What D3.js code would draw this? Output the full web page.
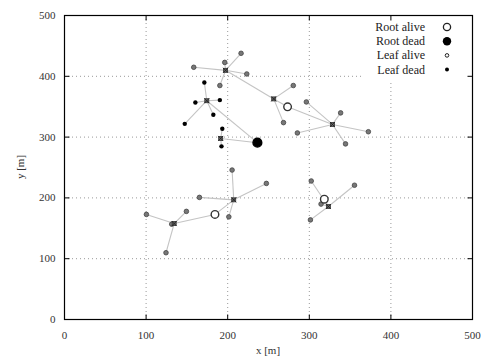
<!DOCTYPE html>
<html>
<head>
<meta charset="utf-8">
<script src="https://cdn.jsdelivr.net/npm/d3@7"></script>
<style>
  body { margin: 0; background: #fff; }
  text { font-family: "Liberation Serif", "DejaVu Serif", serif; }
</style>
</head>
<body>
<svg id="chart" width="488" height="361"></svg>
<script>
// roots: [name, x, y, alive]
const roots = [
  ["R1", 274, 349, true],
  ["R2", 237, 290, false],
  ["R3", 185, 172, true],
  ["R4", 319, 197, true]
];
// relay (cluster head) nodes: [name, x, y, parent]
const heads = [
  ["A", 198, 409, "B"],
  ["B", 257, 362, "R1"],
  ["C", 329, 320, "R1"],
  ["D", 175, 359, "R2"],
  ["E", 192, 297, "R2"],
  ["F", 208, 196, "R3"],
  ["G", 135, 157, "R3"],
  ["H", 324, 185, "R4"]
];
// leaves: [x, y, parent, alive]
const leaves = [
  [217, 437, "A", true], [197, 422, "A", true], [159, 414, "A", true], [224, 403, "A", true], [191, 384, "A", true],
  [281, 384, "B", true], [269, 323, "B", true],
  [297, 357, "C", true], [339, 339, "C", true], [373, 308, "C", true], [345, 288, "C", true], [286, 306, "C", true],
  [172, 389, "D", false], [161, 356, "D", false], [191, 360, "D", false], [183, 336, "D", false], [148, 321, "D", false],
  [194, 313, "E", false], [193, 284, "E", false],
  [206, 245, "F", true], [248, 223, "F", true], [166, 200, "F", true], [202, 168, "F", true],
  [101, 172, "G", true], [150, 177, "G", true], [125, 109, "G", true], [132, 156, "G", true],
  [303, 227, "H", true], [356, 220, "H", true], [302, 163, "H", true], [315, 189, "H", true]
];
const ticks = [0, 100, 200, 300, 400, 500];
const legendLabels = ["Root alive", "Root dead", "Leaf alive", "Leaf dead"];

const svg = d3.select("#chart");
const mLeft = 64, mRight = 472, mTop = 15, mBottom = 319;
const x = d3.scaleLinear().domain([0, 500]).range([mLeft, mRight]);
const y = d3.scaleLinear().domain([0, 500]).range([mBottom, mTop]);

const pos = {};
roots.forEach(r => pos[r[0]] = [r[1], r[2]]);
heads.forEach(h => pos[h[0]] = [h[1], h[2]]);

// grid
const grid = svg.append("g").attr("stroke", "#999").attr("stroke-dasharray", "1,3").attr("stroke-width", 1);
ticks.slice(1, -1).forEach(t => {
  grid.append("line").attr("x1", x(t) + 0.5).attr("x2", x(t) + 0.5).attr("y1", mTop).attr("y2", mBottom);
  grid.append("line").attr("y1", y(t) + 0.5).attr("y2", y(t) + 0.5).attr("x1", mLeft).attr("x2", mRight);
});
// legend background hides the grid
svg.append("rect").attr("x", 364).attr("y", mTop + 1).attr("width", mRight - 365).attr("height", 64).attr("fill", "#fff");

// axes
const ax = svg.append("g").attr("transform", `translate(0,${mBottom + 0.5})`)
  .call(d3.axisBottom(x).tickValues(ticks).tickSize(-5).tickPadding(12));
const ay = svg.append("g").attr("transform", `translate(${mLeft + 0.5},0)`)
  .call(d3.axisLeft(y).tickValues(ticks).tickSize(-5).tickPadding(9));
const axTop = svg.append("g").attr("transform", `translate(0,${mTop + 0.5})`)
  .call(d3.axisTop(x).tickValues(ticks.slice(1, -1)).tickSize(-5).tickFormat(""));
const ayRight = svg.append("g").attr("transform", `translate(${mRight + 0.5},0)`)
  .call(d3.axisRight(y).tickValues(ticks.slice(1, -1)).tickSize(-5).tickFormat(""));
[ax, ay, axTop, ayRight].forEach(g => {
  g.select(".domain").remove();
  g.selectAll("line").attr("stroke", "#000");
  g.selectAll("text").attr("font-size", 11).attr("fill", "#333")
    .style("font-family", "'Liberation Serif', serif");
});
svg.append("rect").attr("x", mLeft + 0.5).attr("y", mTop + 0.5).attr("width", mRight - mLeft).attr("height", mBottom - mTop)
  .attr("fill", "none").attr("stroke", "#000").attr("stroke-width", 1.2);

svg.append("text").attr("x", (mLeft + mRight) / 2).attr("y", 354).attr("text-anchor", "middle")
  .attr("font-size", 11).attr("fill", "#333").text("x [m]");
svg.append("text").attr("transform", `translate(24,${(mTop + mBottom) / 2}) rotate(-90)`).attr("text-anchor", "middle")
  .attr("font-size", 11).attr("fill", "#333").text("y [m]");

// links
const links = svg.append("g").attr("stroke", "#c4c4c4").attr("stroke-width", 1.1);
heads.forEach(h => {
  const p = pos[h[3]];
  links.append("line").attr("x1", x(h[1])).attr("y1", y(h[2])).attr("x2", x(p[0])).attr("y2", y(p[1]));
});
leaves.forEach(l => {
  const p = pos[l[2]];
  links.append("line").attr("x1", x(l[0])).attr("y1", y(l[1])).attr("x2", x(p[0])).attr("y2", y(p[1]));
});

// leaves
svg.append("g").selectAll("circle").data(leaves).join("circle")
  .attr("cx", d => x(d[0])).attr("cy", d => y(d[1]))
  .attr("r", d => d[3] ? 2.3 : 2.2)
  .attr("fill", d => d[3] ? "#777" : "#000")
  .attr("stroke", d => d[3] ? "#444" : "none")
  .attr("stroke-width", 0.8);

// heads
const hg = svg.append("g");
heads.forEach(h => {
  const cx = x(h[1]), cy = y(h[2]);
  hg.append("rect").attr("x", cx - 2).attr("y", cy - 2).attr("width", 4).attr("height", 4)
    .attr("fill", "#666").attr("stroke", "#333").attr("stroke-width", 0.8);
  hg.append("path").attr("d", `M${cx - 2.5},${cy - 2.5}L${cx + 2.5},${cy + 2.5}M${cx - 2.5},${cy + 2.5}L${cx + 2.5},${cy - 2.5}`)
    .attr("stroke", "#222").attr("stroke-width", 0.9);
});

// roots
svg.append("g").selectAll("circle").data(roots).join("circle")
  .attr("cx", d => x(d[1])).attr("cy", d => y(d[2]))
  .attr("r", d => d[3] ? 3.8 : 4.4)
  .attr("fill", d => d[3] ? "#fff" : "#000")
  .attr("stroke", d => d[3] ? "#333" : "#000")
  .attr("stroke-width", 1.4);

// legend
const lg = svg.append("g");
legendLabels.forEach((lab, i) => {
  const ly = 27 + i * 14.2;
  lg.append("text").attr("x", 425).attr("y", ly + 4).attr("text-anchor", "end")
    .attr("font-size", 12).attr("fill", "#222").text(lab);
  const c = lg.append("circle").attr("cx", 447).attr("cy", ly);
  if (i === 0) c.attr("r", 3.6).attr("fill", "#fff").attr("stroke", "#222").attr("stroke-width", 1.3);
  if (i === 1) c.attr("r", 4.2).attr("fill", "#000");
  if (i === 2) c.attr("r", 1.8).attr("fill", "#fff").attr("stroke", "#222").attr("stroke-width", 1);
  if (i === 3) c.attr("r", 2).attr("fill", "#000");
});
</script>
</body>
</html>
